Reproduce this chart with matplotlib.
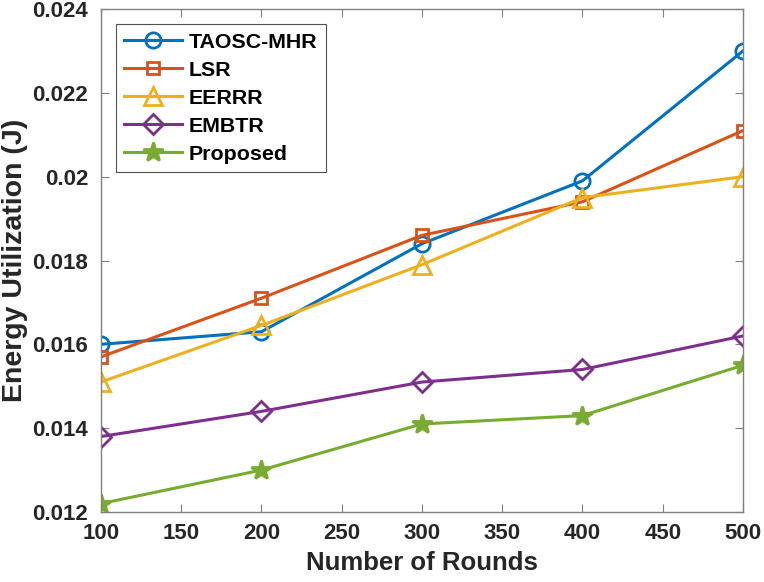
import matplotlib
matplotlib.use('Agg')
import matplotlib.pyplot as plt

plt.rcParams['font.family'] = ['Liberation Sans', 'DejaVu Sans']
plt.rcParams['font.weight'] = 'bold'

rounds = [100, 200, 300, 400, 500]
taosc_mhr = [0.0160, 0.0163, 0.0184, 0.0199, 0.0230]
lsr = [0.0157, 0.0171, 0.0186, 0.0194, 0.0211]
eerrr = [0.0151, 0.01645, 0.0179, 0.0195, 0.0200]
embtr = [0.0138, 0.0144, 0.0151, 0.0154, 0.0162]
proposed = [0.0122, 0.0130, 0.0141, 0.0143, 0.0155]

labels = ['TAOSC-MHR', 'LSR', 'EERRR', 'EMBTR', 'Proposed']
colors = ['#0072BD', '#D95319', '#EDB120', '#7E2F8E', '#77AC30']
markers = ['o', 's', '^', 'D', '*']
msizes = [11, 9, 13, 10, 15]

fig = plt.figure(figsize=(7.64, 5.82), dpi=100)
ax = fig.add_axes([0.132, 0.1203, 0.8405, 0.8642])

series = [taosc_mhr, lsr, eerrr, embtr, proposed]
for ys, lab, c, m, ms in zip(series, labels, colors, markers, msizes):
    ax.plot(rounds, ys, color=c, lw=2.2, marker=m, ms=ms, mfc='none' if m != '*' else c,
            mec=c, mew=2, label=lab)

ax.set_xlim(100, 500)
ax.set_ylim(0.012, 0.024)
ax.set_xticks([100, 150, 200, 250, 300, 350, 400, 450, 500])
ax.set_yticks([0.012, 0.014, 0.016, 0.018, 0.02, 0.022, 0.024])
ax.set_yticklabels(['0.012', '0.014', '0.016', '0.018', '0.02', '0.022', '0.024'])

for s in ax.spines.values():
    s.set_color('#808080')
    s.set_linewidth(1.0)
ax.tick_params(direction='in', top=True, right=True, length=6, color='#808080',
               labelsize=16, labelcolor='#262626')
ax.tick_params(axis='x', pad=8)
ax.tick_params(axis='y', pad=9)
for lbl in ax.get_xticklabels() + ax.get_yticklabels():
    lbl.set_fontweight('bold')

ax.set_xlabel('Number of Rounds', fontsize=18.5, fontweight='bold', color='#262626', labelpad=5)
ax.set_ylabel('Energy Utilization (J)', fontsize=20.5, fontweight='bold', color='#262626', labelpad=3)

leg = ax.legend(loc='upper left', bbox_to_anchor=(0.023, 0.97), fontsize=15.4, frameon=True,
                fancybox=False, edgecolor='#262626', handlelength=2.7, borderpad=0.4,
                labelspacing=0.42, handletextpad=0.3, borderaxespad=0)
leg.get_frame().set_linewidth(0.8)
for t in leg.get_texts():
    t.set_fontweight('bold')
    t.set_color('#000000')

fig.savefig('out.png', dpi=100)
